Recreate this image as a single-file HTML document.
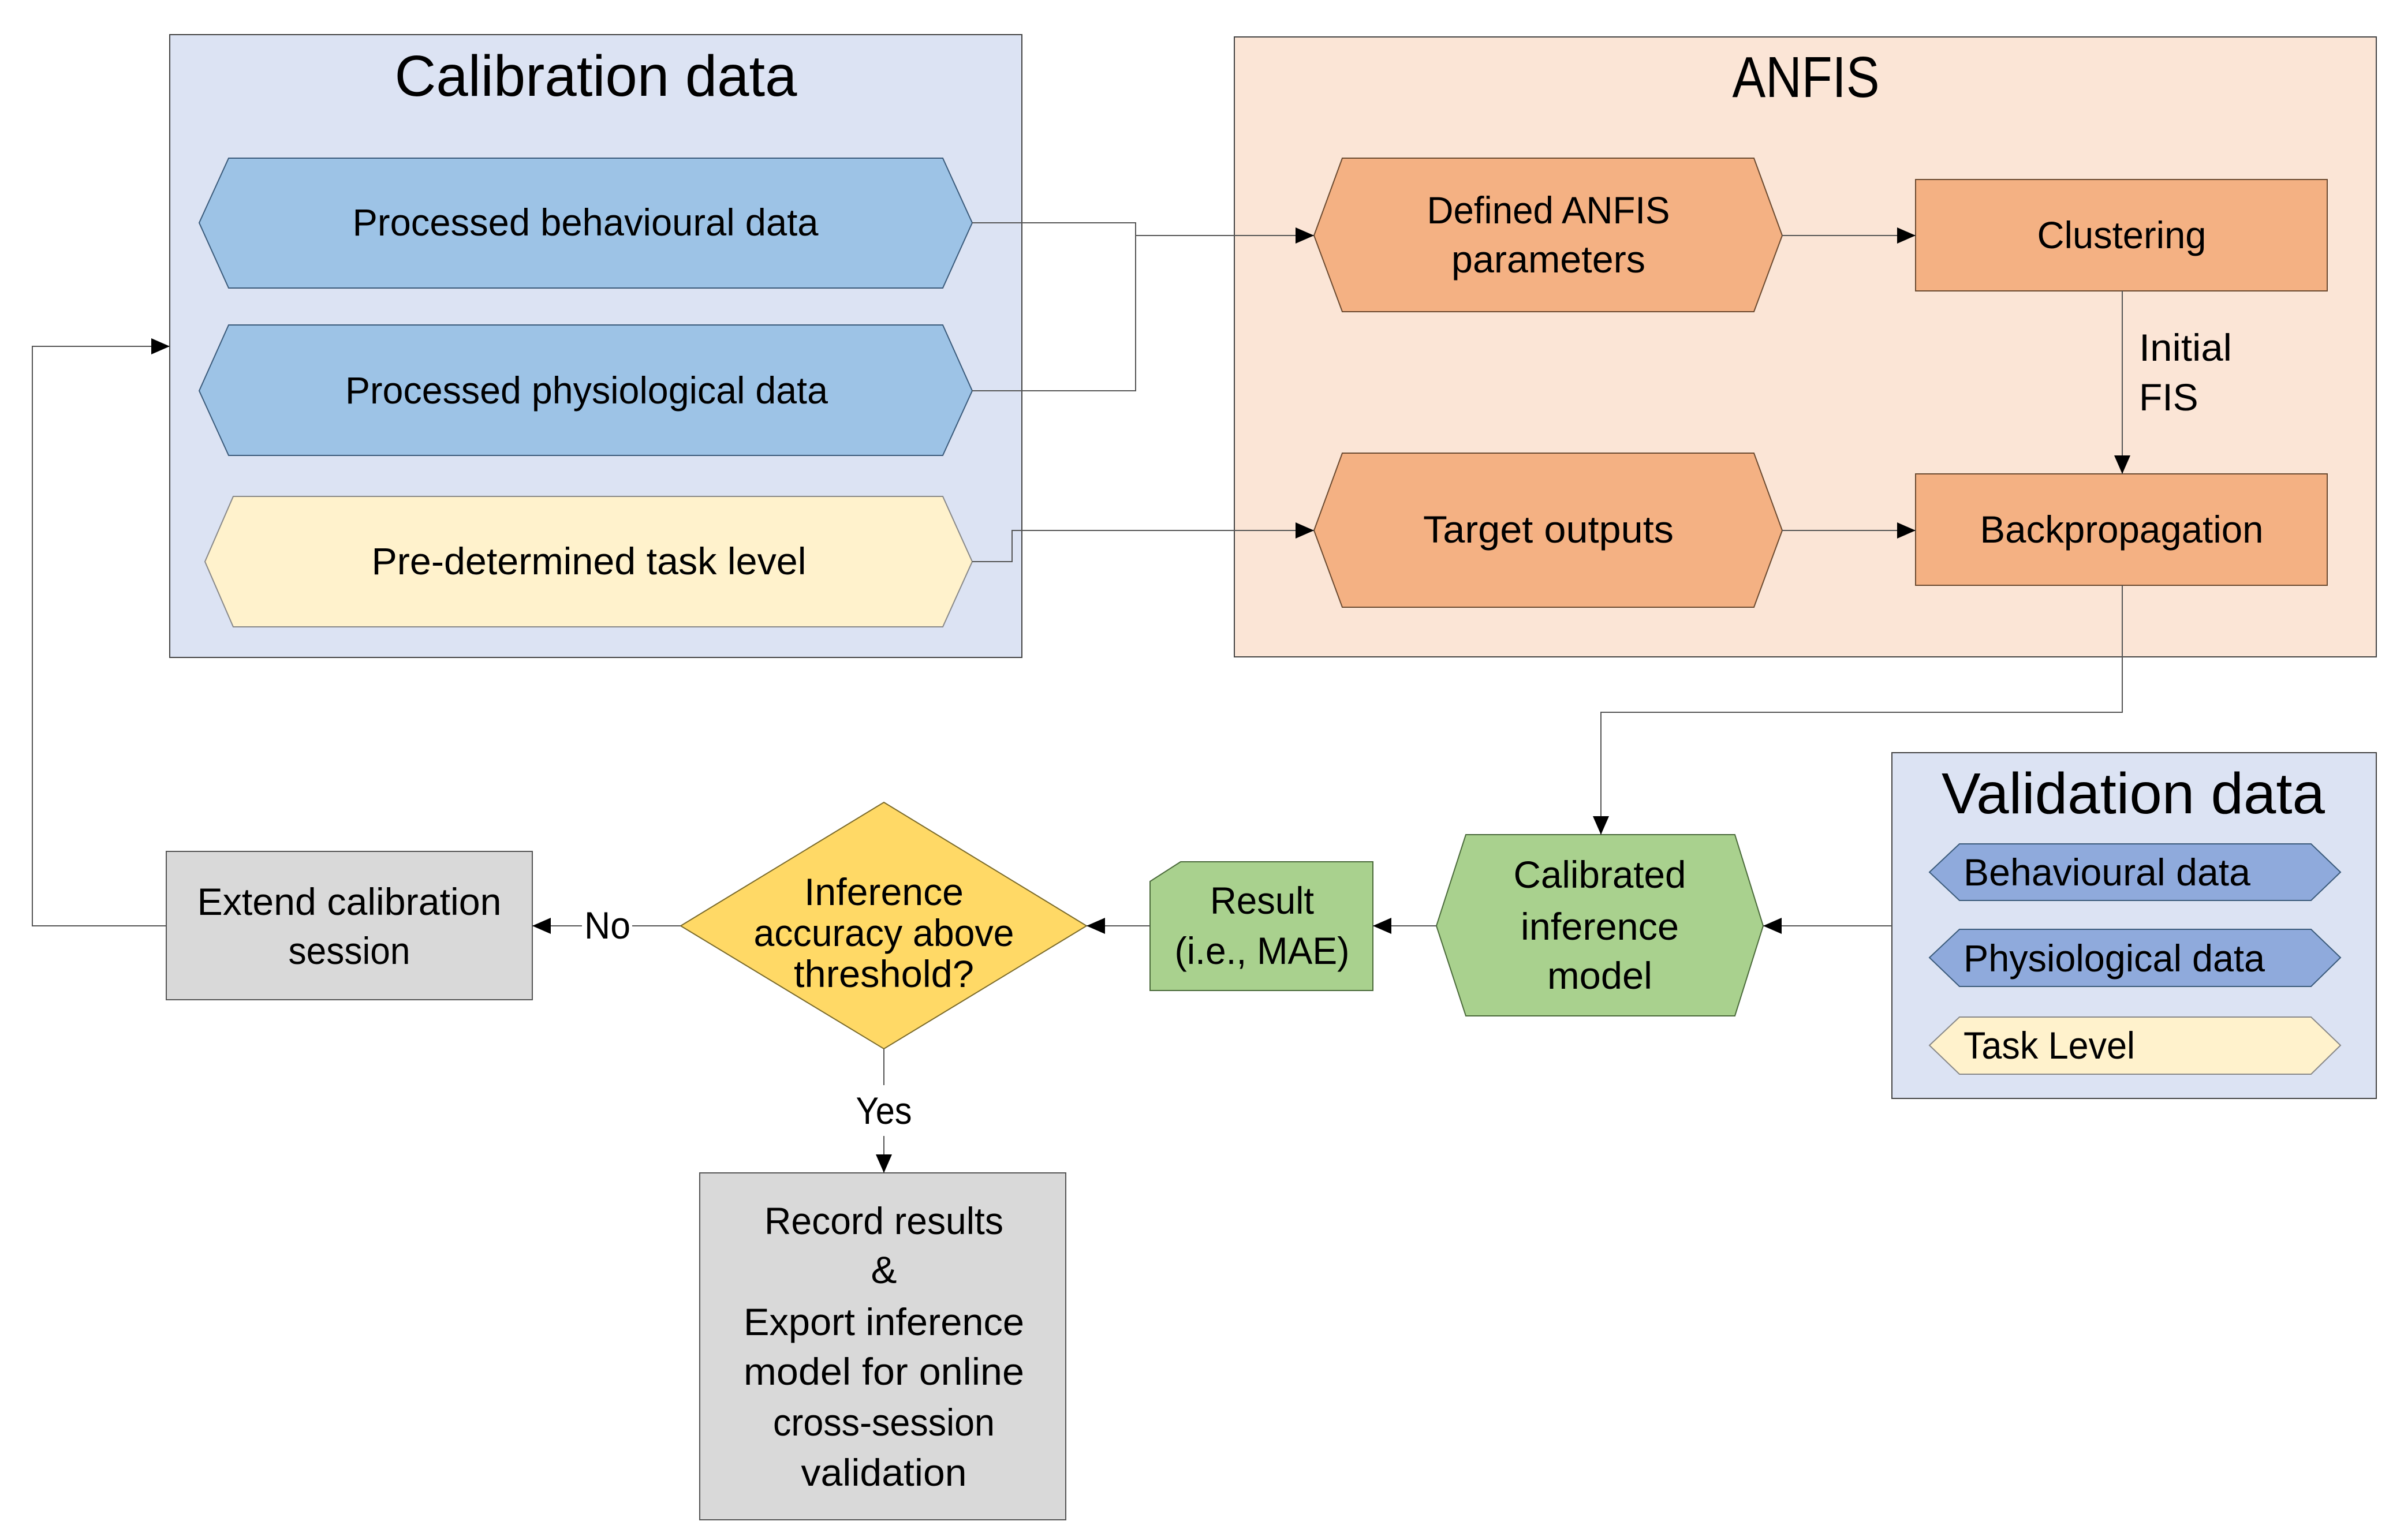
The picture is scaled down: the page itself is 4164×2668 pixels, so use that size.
<!DOCTYPE html>
<html><head><meta charset="utf-8"><style>
html,body{margin:0;padding:0;background:#fff;}
svg{display:block;}
text{font-family:"Liberation Sans",sans-serif;fill:#000;}
</style></head><body>
<svg width="4164" height="2668" viewBox="0 0 4164 2668" xmlns="http://www.w3.org/2000/svg">
<defs>
<marker id="a" markerWidth="32" markerHeight="28" refX="32" refY="14" orient="auto" markerUnits="userSpaceOnUse">
<path d="M0,0 L32,14 L0,28 Z" fill="#000"/></marker>
</defs>
<rect width="4164" height="2668" fill="#fff"/>

<rect x="294" y="60" width="1476" height="1079" fill="#dce3f3" stroke="#444" stroke-width="2"/>
<text x="1032" y="166" font-size="100" text-anchor="middle" textLength="697" lengthAdjust="spacingAndGlyphs">Calibration data</text>
<polygon points="345,386 396,274 1633,274 1684,386 1633,499 396,499" fill="#9dc3e6" stroke="#3a5a7a" stroke-width="2"/>
<text x="1014" y="408" font-size="66" text-anchor="middle" textLength="807" lengthAdjust="spacingAndGlyphs">Processed behavioural data</text>
<polygon points="345,677 396,563 1633,563 1684,677 1633,789 396,789" fill="#9dc3e6" stroke="#3a5a7a" stroke-width="2"/>
<text x="1016" y="699" font-size="66" text-anchor="middle" textLength="836" lengthAdjust="spacingAndGlyphs">Processed physiological data</text>
<polygon points="355,973 404,860 1633,860 1684,973 1633,1086 404,1086" fill="#fff2cc" stroke="#888" stroke-width="2"/>
<text x="1020" y="995" font-size="66" text-anchor="middle" textLength="753" lengthAdjust="spacingAndGlyphs">Pre-determined task level</text>

<rect x="2138" y="64" width="1978" height="1074" fill="#fbe5d6" stroke="#444" stroke-width="2"/>
<text x="3128" y="168" font-size="100" text-anchor="middle" textLength="255" lengthAdjust="spacingAndGlyphs">ANFIS</text>
<polygon points="2276,408 2325,274 3038,274 3087,408 3038,540 2325,540" fill="#f4b183" stroke="#6b4a30" stroke-width="2"/>
<text x="2682" y="387" font-size="66" text-anchor="middle" textLength="421" lengthAdjust="spacingAndGlyphs">Defined ANFIS</text>
<text x="2682" y="472" font-size="66" text-anchor="middle" textLength="336" lengthAdjust="spacingAndGlyphs">parameters</text>
<rect x="3318" y="311" width="713" height="193" fill="#f4b183" stroke="#6b4a30" stroke-width="2"/>
<text x="3675" y="430" font-size="66" text-anchor="middle" textLength="293" lengthAdjust="spacingAndGlyphs">Clustering</text>
<polygon points="2276,919 2325,785 3038,785 3087,919 3038,1052 2325,1052" fill="#f4b183" stroke="#6b4a30" stroke-width="2"/>
<text x="2682" y="940" font-size="66" text-anchor="middle" textLength="434" lengthAdjust="spacingAndGlyphs">Target outputs</text>
<rect x="3318" y="821" width="713" height="193" fill="#f4b183" stroke="#6b4a30" stroke-width="2"/>
<text x="3675" y="940" font-size="66" text-anchor="middle" textLength="491" lengthAdjust="spacingAndGlyphs">Backpropagation</text>
<text x="3705" y="625" font-size="66" textLength="161" lengthAdjust="spacingAndGlyphs">Initial</text>
<text x="3705" y="711" font-size="66">FIS</text>

<rect x="3277" y="1304" width="839" height="599" fill="#dce3f3" stroke="#444" stroke-width="2"/>
<text x="3695" y="1409" font-size="100" text-anchor="middle" textLength="664" lengthAdjust="spacingAndGlyphs">Validation data</text>
<polygon points="3342,1511 3394,1462 4003,1462 4054,1511 4003,1560 3394,1560" fill="#8faadc" stroke="#3a5a7a" stroke-width="2"/>
<text x="3401" y="1534" font-size="66" textLength="497" lengthAdjust="spacingAndGlyphs">Behavioural data</text>
<polygon points="3342,1659 3394,1610 4003,1610 4054,1659 4003,1709 3394,1709" fill="#8faadc" stroke="#3a5a7a" stroke-width="2"/>
<text x="3401" y="1683" font-size="66" textLength="522" lengthAdjust="spacingAndGlyphs">Physiological data</text>
<polygon points="3342,1811 3394,1762 4003,1762 4054,1811 4003,1861 3394,1861" fill="#fff2cc" stroke="#888" stroke-width="2"/>
<text x="3401" y="1834" font-size="66" textLength="297" lengthAdjust="spacingAndGlyphs">Task Level</text>

<polygon points="2488,1604 2539,1446 3005,1446 3054,1604 3005,1760 2539,1760" fill="#a9d18e" stroke="#4a6a3a" stroke-width="2"/>
<text x="2771" y="1538" font-size="66" text-anchor="middle" textLength="299" lengthAdjust="spacingAndGlyphs">Calibrated</text>
<text x="2771" y="1628" font-size="66" text-anchor="middle" textLength="274" lengthAdjust="spacingAndGlyphs">inference</text>
<text x="2771" y="1713" font-size="66" text-anchor="middle" textLength="182" lengthAdjust="spacingAndGlyphs">model</text>

<polygon points="2045,1493 2378,1493 2378,1716 1992,1716 1992,1527" fill="#a9d18e" stroke="#4a6a3a" stroke-width="2"/>
<text x="2186" y="1583" font-size="66" text-anchor="middle" textLength="180" lengthAdjust="spacingAndGlyphs">Result</text>
<text x="2186" y="1670" font-size="66" text-anchor="middle" textLength="303" lengthAdjust="spacingAndGlyphs">(i.e., MAE)</text>

<polygon points="1531,1390 1882,1604 1531,1817 1179,1604" fill="#ffd966" stroke="#7a6a2a" stroke-width="2"/>
<text x="1531" y="1568" font-size="66" text-anchor="middle" textLength="276" lengthAdjust="spacingAndGlyphs">Inference</text>
<text x="1531" y="1639" font-size="66" text-anchor="middle" textLength="451" lengthAdjust="spacingAndGlyphs">accuracy above</text>
<text x="1531" y="1710" font-size="66" text-anchor="middle" textLength="312" lengthAdjust="spacingAndGlyphs">threshold?</text>

<rect x="288" y="1475" width="634" height="257" fill="#d9d9d9" stroke="#555" stroke-width="2"/>
<text x="605" y="1585" font-size="66" text-anchor="middle" textLength="527" lengthAdjust="spacingAndGlyphs">Extend calibration</text>
<text x="605" y="1670" font-size="66" text-anchor="middle" textLength="211" lengthAdjust="spacingAndGlyphs">session</text>

<rect x="1212" y="2032" width="634" height="601" fill="#d9d9d9" stroke="#555" stroke-width="2"/>
<text x="1531" y="2138" font-size="66" text-anchor="middle" textLength="414" lengthAdjust="spacingAndGlyphs">Record results</text>
<text x="1531" y="2223" font-size="66" text-anchor="middle" textLength="45" lengthAdjust="spacingAndGlyphs">&amp;</text>
<text x="1531" y="2313" font-size="66" text-anchor="middle" textLength="486" lengthAdjust="spacingAndGlyphs">Export inference</text>
<text x="1531" y="2399" font-size="66" text-anchor="middle" textLength="486" lengthAdjust="spacingAndGlyphs">model for online</text>
<text x="1531" y="2487" font-size="66" text-anchor="middle" textLength="384" lengthAdjust="spacingAndGlyphs">cross-session</text>
<text x="1531" y="2574" font-size="66" text-anchor="middle" textLength="287" lengthAdjust="spacingAndGlyphs">validation</text>

<g fill="none" stroke="#555" stroke-width="2">
<polyline points="1684,386 1967,386 1967,677 1684,677"/>
<polyline points="1967,408 2276,408" marker-end="url(#a)"/>
<polyline points="1684,973 1753,973 1753,919 2276,919" marker-end="url(#a)"/>
<polyline points="3087,408 3318,408" marker-end="url(#a)"/>
<polyline points="3087,919 3318,919" marker-end="url(#a)"/>
<polyline points="3676,504 3676,821" marker-end="url(#a)"/>
<polyline points="3676,1014 3676,1234 2773,1234 2773,1446" marker-end="url(#a)"/>
<polyline points="3277,1604 3054,1604" marker-end="url(#a)"/>
<polyline points="2488,1604 2378,1604" marker-end="url(#a)"/>
<polyline points="1992,1604 1882,1604" marker-end="url(#a)"/>
<polyline points="1179,1604 1095,1604"/>
<polyline points="1008,1604 922,1604" marker-end="url(#a)"/>
<polyline points="288,1604 56,1604 56,600 294,600" marker-end="url(#a)"/>
<polyline points="1531,1817 1531,1880"/>
<polyline points="1531,1968 1531,2032" marker-end="url(#a)"/>
</g>
<text x="1052" y="1626" font-size="66" text-anchor="middle" textLength="80" lengthAdjust="spacingAndGlyphs">No</text>
<text x="1531" y="1947" font-size="66" text-anchor="middle" textLength="97" lengthAdjust="spacingAndGlyphs">Yes</text>
</svg>
</body></html>
